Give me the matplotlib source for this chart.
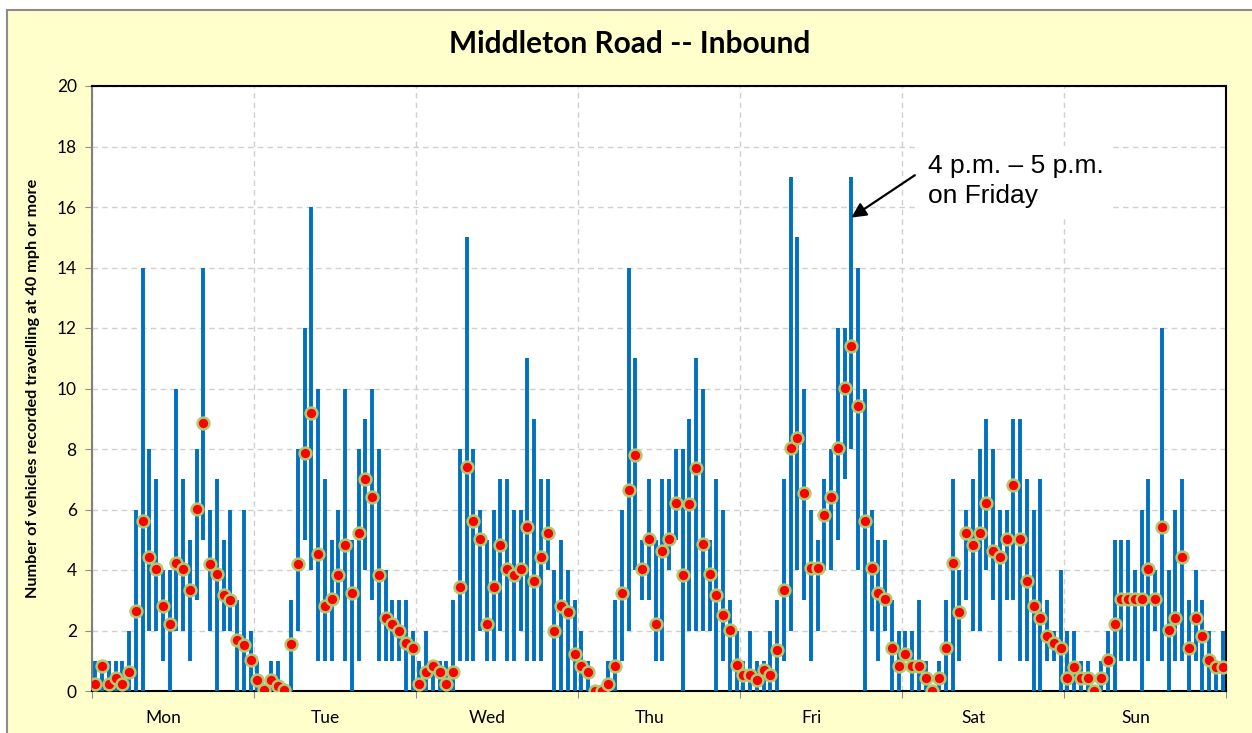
import numpy as np
import matplotlib
matplotlib.use('Agg')
import matplotlib.pyplot as plt
from matplotlib.patches import Rectangle

# hourly counts of vehicles at 40 mph or more, one row per day (hours 0..23)
days = ['Mon', 'Tue', 'Wed', 'Thu', 'Fri', 'Sat', 'Sun']

max_vals = [
    [1, 1, 1, 1, 1, 2, 6, 14, 8, 7, 4, 4, 10, 7, 5, 8, 14, 6, 7, 5, 6, 3, 6, 2],
    [1, 0, 1, 1, 0, 3, 8, 12, 16, 10, 7, 5, 6, 10, 5, 8, 9, 10, 8, 4, 3, 3, 3, 2],
    [1, 2, 1, 1, 1, 3, 8, 15, 8, 6, 5, 6, 7, 7, 6, 6, 11, 9, 7, 7, 4, 5, 4, 3],
    [2, 1, 0, 0, 1, 3, 6, 14, 11, 5, 7, 5, 7, 7, 8, 8, 9, 11, 10, 5, 7, 6, 3, 2],
    [1, 2, 1, 1, 2, 3, 7, 17, 15, 10, 6, 5, 7, 8, 12, 12, 17, 14, 10, 6, 5, 5, 3, 2],
    [2, 2, 3, 1, 0, 1, 3, 7, 4, 6, 7, 8, 9, 8, 6, 6, 9, 9, 7, 6, 7, 3, 2, 4],
    [2, 2, 1, 1, 0, 1, 2, 5, 5, 5, 4, 6, 7, 4, 12, 4, 6, 7, 3, 4, 3, 2, 1, 2],
]
min_vals = [
    [0, 0, 0, 0, 0, 0, 0, 0, 2, 2, 1, 0, 2, 2, 1, 3, 5, 2, 0, 2, 2, 0, 0, 0],
    [0, 0, 0, 0, 0, 0, 2, 5, 4, 1, 1, 1, 3, 1, 0, 1, 4, 3, 1, 1, 1, 1, 0, 0],
    [0, 0, 0, 0, 0, 0, 1, 1, 1, 2, 1, 1, 2, 1, 1, 2, 1, 1, 1, 4, 0, 0, 0, 0],
    [0, 0, 0, 0, 0, 0, 1, 2, 4, 3, 3, 1, 1, 4, 5, 0, 2, 2, 2, 2, 0, 1, 0, 0],
    [0, 0, 0, 0, 0, 0, 1, 2, 4, 3, 1, 2, 4, 4, 5, 7, 8, 4, 0, 2, 1, 2, 0, 0],
    [1, 0, 0, 0, 0, 0, 0, 0, 1, 3, 2, 2, 4, 3, 1, 3, 3, 1, 1, 0, 0, 1, 1, 0],
    [0, 0, 0, 0, 0, 0, 0, 0, 1, 1, 1, 0, 1, 2, 1, 0, 1, 1, 0, 1, 0, 0, 0, 0],
]
mean_vals = [
    [0.23, 0.82, 0.23, 0.42, 0.23, 0.63, 2.63, 5.63, 4.43, 4.02, 2.81, 2.21,
     4.23, 4.02, 3.35, 6.01, 8.87, 4.21, 3.87, 3.18, 3.02, 1.70, 1.52, 1.01],
    [0.37, 0.02, 0.37, 0.18, 0.02, 1.54, 4.21, 7.87, 9.20, 4.52, 2.81, 3.03,
     3.82, 4.84, 3.23, 5.23, 7.00, 6.42, 3.82, 2.41, 2.21, 2.00, 1.60, 1.41],
    [0.23, 0.62, 0.81, 0.62, 0.23, 0.62, 3.44, 7.42, 5.63, 5.03, 2.21, 3.44,
     4.82, 4.04, 3.84, 4.04, 5.42, 3.64, 4.43, 5.23, 2.00, 2.81, 2.60, 1.22],
    [0.82, 0.63, 0.00, 0.00, 0.23, 0.82, 3.24, 6.63, 7.81, 4.02, 5.03, 2.21,
     4.64, 5.03, 6.22, 3.84, 6.19, 7.36, 4.86, 3.87, 3.18, 2.52, 2.02, 0.85],
    [0.53, 0.53, 0.36, 0.68, 0.53, 1.36, 3.34, 8.02, 8.36, 6.54, 4.05, 4.05,
     5.83, 6.41, 8.02, 10.02, 11.42, 9.42, 5.63, 4.05, 3.25, 3.05, 1.42, 0.83],
    [1.22, 0.82, 0.82, 0.42, 0.00, 0.42, 1.42, 4.23, 2.62, 5.22, 4.84, 5.22,
     6.21, 4.63, 4.42, 5.02, 6.81, 5.02, 3.64, 2.80, 2.41, 1.81, 1.60, 1.42],
    [0.42, 0.80, 0.42, 0.42, 0.00, 0.42, 1.02, 2.22, 3.03, 3.03, 3.03, 3.03,
     4.04, 3.03, 5.42, 2.01, 2.41, 4.43, 1.41, 2.41, 1.81, 1.02, 0.80, 0.80],
]

hi = np.array(max_vals).ravel()
lo = np.array(min_vals).ravel()
avg = np.array(mean_vals).ravel()
x = np.arange(len(hi)) + 0.5

fig = plt.figure(figsize=(12.52, 7.33), dpi=100)
fig.patch.set_facecolor('white')
fig.patches.append(Rectangle((7 / 1252, -0.05), 1.1, 1 - 10 / 733 + 0.05,
                             transform=fig.transFigure, facecolor='#FFFFCC',
                             edgecolor='#8c8c8c', lw=1.5, zorder=-1))

ax = fig.add_axes([92 / 1252, 1 - 691 / 733, (1226 - 92) / 1252, (691 - 86) / 733])
ax.set_facecolor('white')

ax.vlines(x, lo, hi, color='#0070C0', lw=2.8, zorder=3)
ax.plot(x, avg, 'o', ms=8.5, mfc='#FF0000', mec='#AFC96E', mew=1.8, zorder=4)

ax.set_xlim(0, 168)
ax.set_ylim(0, 20)
ax.set_yticks(np.arange(0, 21, 2))
ax.set_xticks(np.arange(0, 169, 24))
ax.set_xticklabels([])
ax.set_xticks(np.arange(len(days)) * 24 + 10.6, minor=True)
ax.set_xticklabels(days, minor=True, fontsize=12.5, family='Lato')
ax.tick_params(axis='x', which='minor', length=0, pad=14)
ax.tick_params(axis='x', which='major', length=5, color='#8c8c8c')
ax.tick_params(axis='y', length=5, color='#8c8c8c', labelsize=12.5, pad=6)
for lab in ax.get_yticklabels():
    lab.set_family('Lato')

ax.grid(True, which='major', color='#d0d0d0', ls=(0, (4, 3)), lw=1)
ax.set_axisbelow(True)
for side in ['top', 'right', 'bottom']:
    ax.spines[side].set_color('black')
    ax.spines[side].set_linewidth(1.5)
ax.spines['left'].set_color('#7f7f7f')
ax.spines['left'].set_linewidth(1.5)

ax.set_ylabel('Number of vehicles recorded travelling at 40 mph or more',
              fontsize=11.7, fontweight='bold', family='Lato', labelpad=12)

fig.text(630 / 1252, 1 - 44 / 733, 'Middleton Road -- Inbound', ha='center',
         va='center', fontsize=21.5, fontweight='bold', family='Lato')

ax.text(123.8, 16.85, '4 p.m. \u2013 5 p.m.\non Friday', fontsize=19,
        family='Liberation Sans', va='center', ha='left', linespacing=1.3,
        bbox=dict(facecolor='white', edgecolor='none', pad=6), zorder=5)
ax.annotate('', xy=(96 + 16.5, 15.65), xytext=(121.9, 17.05),
            arrowprops=dict(arrowstyle='-|>', mutation_scale=22, lw=1.6,
                            color='black', shrinkA=0, shrinkB=0), zorder=6)

fig.savefig('out.png', dpi=100, facecolor=fig.get_facecolor())
